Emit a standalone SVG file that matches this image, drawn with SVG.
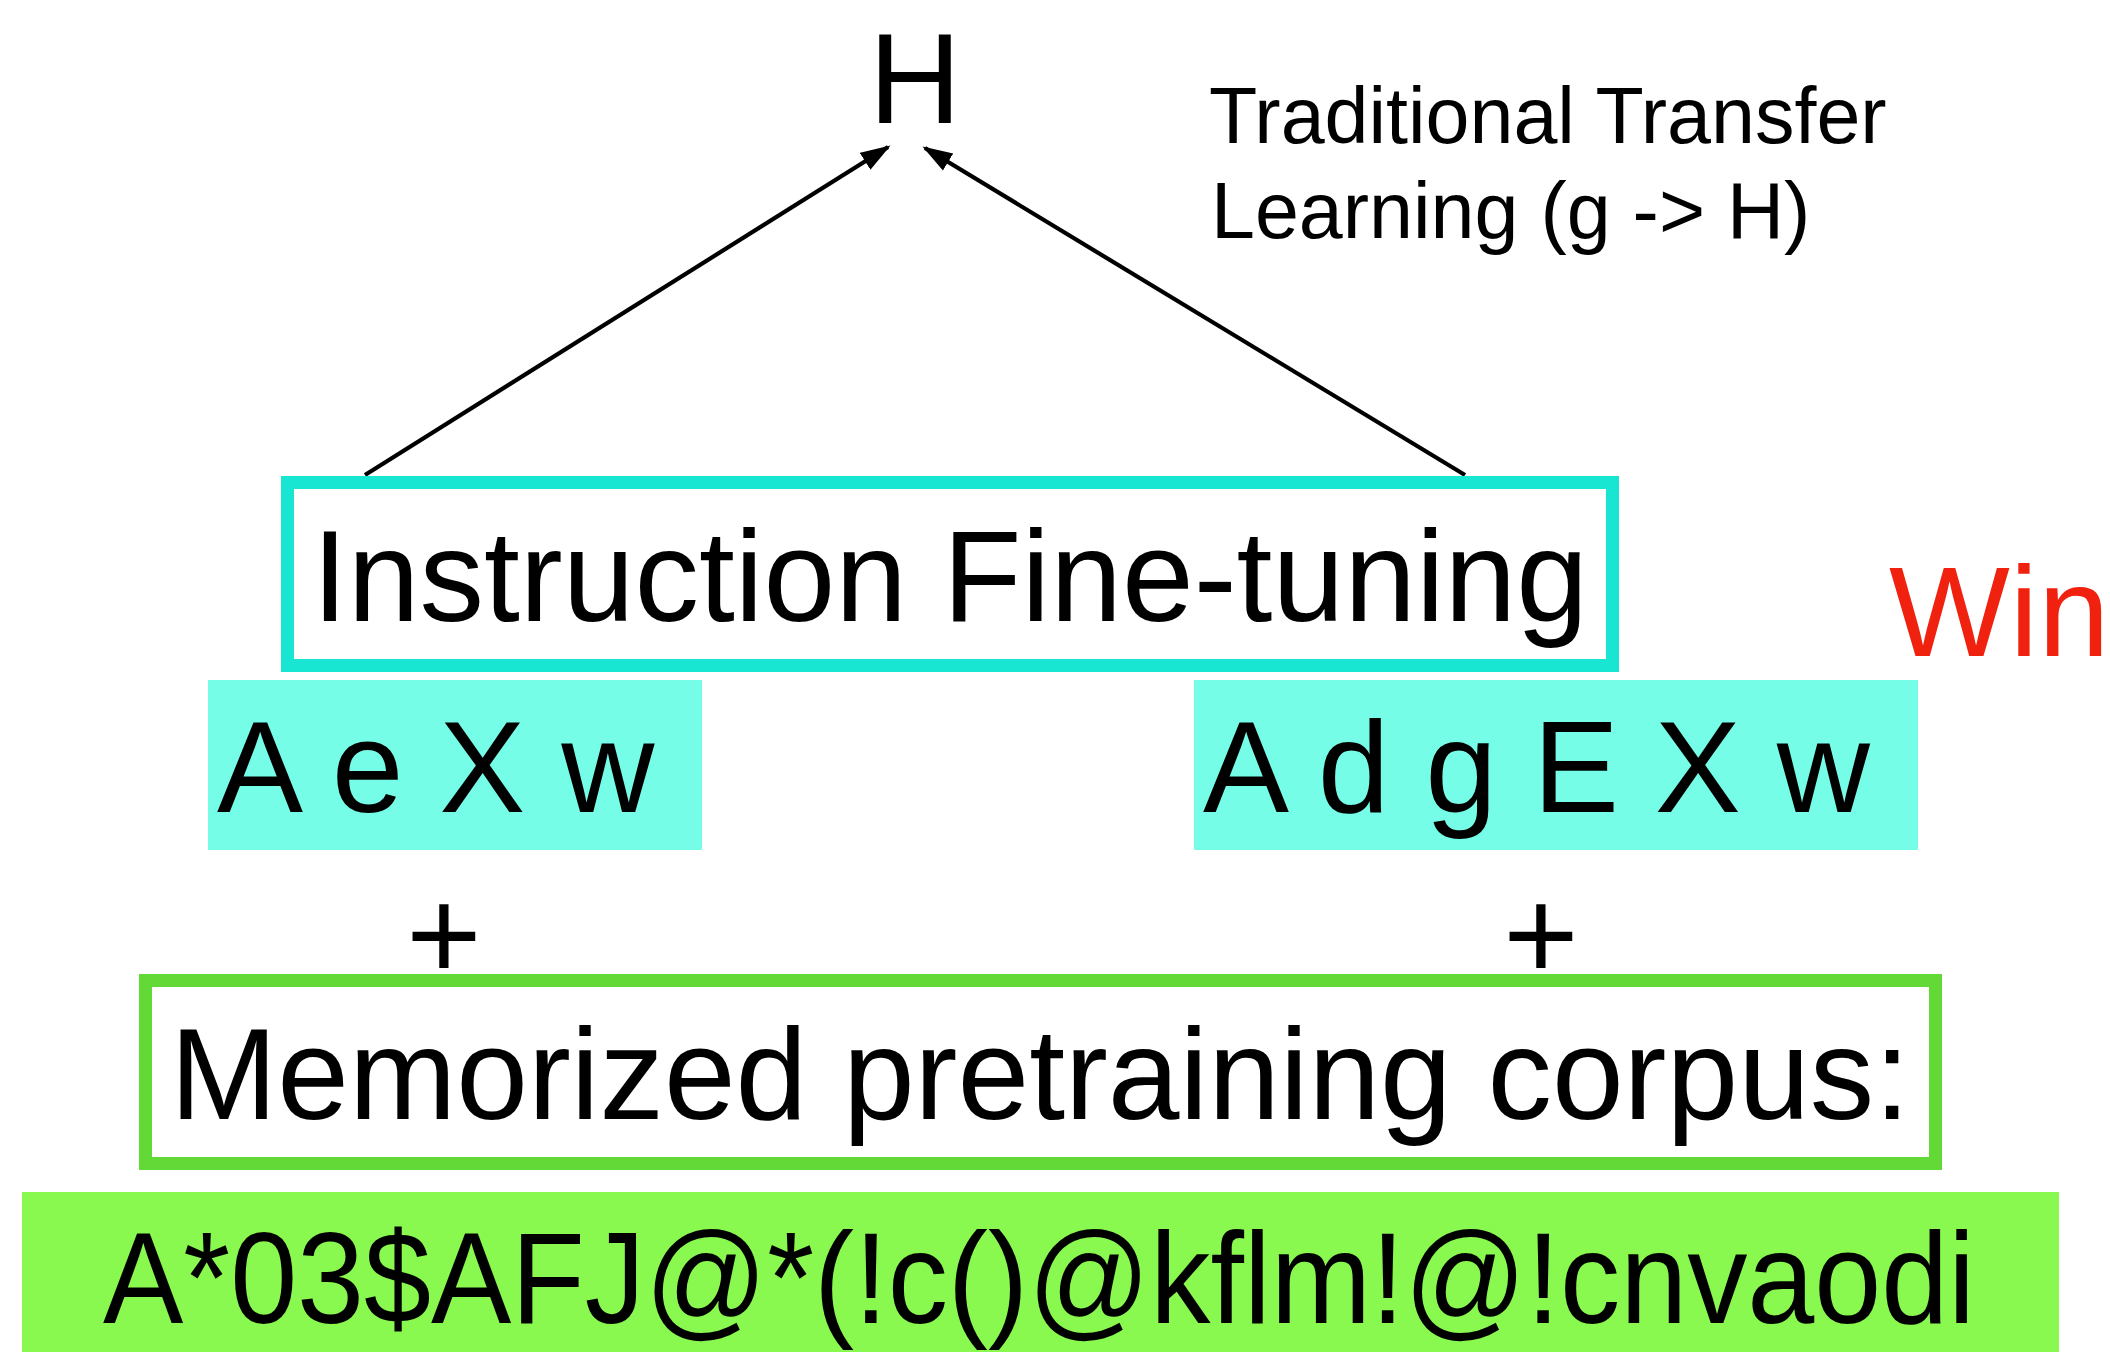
<svg xmlns="http://www.w3.org/2000/svg" width="2110" height="1352" viewBox="0 0 2110 1352">
<defs>
<marker id="ah" markerUnits="userSpaceOnUse" markerWidth="30" markerHeight="22" refX="27" refY="11" orient="auto">
<path d="M0,1 L30,11 L0,21 z" fill="#000"/>
</marker>
<style>
text{font-family:"Liberation Sans",Arial,Helvetica,sans-serif;fill:#000}
.big{font-size:129px}
.note{font-size:79px}
.conn{stroke:#000;stroke-width:4.2;fill:none;marker-end:url(#ah)}
</style>
</defs>
<rect width="2110" height="1352" fill="#fff"/>
<g id="connectors">
<line class="conn" x1="365" y1="475" x2="888" y2="147"/>
<line class="conn" x1="1465" y1="475" x2="925" y2="148"/>
</g>
<g id="node-H">
<text x="915" y="123" text-anchor="middle" font-size="128">H</text>
</g>
<g id="label-traditional">
<text class="note" x="1209" y="143">Traditional Transfer</text>
<text class="note" x="1211" y="238">Learning (g -&gt; H)</text>
</g>
<g id="node-ift">
<rect x="287.5" y="482.5" width="1325" height="183" fill="#fff" stroke="#19E6D2" stroke-width="13"/>
<text class="big" x="950" y="621" text-anchor="middle" textLength="1276" lengthAdjust="spacingAndGlyphs">Instruction Fine-tuning</text>
</g>
<g id="label-win">
<text x="1889" y="656" font-size="128" style="fill:#F0220F">Win</text>
</g>
<g id="node-left-seq">
<rect x="208" y="680" width="494" height="170" fill="#76FDE8"/>
<text class="big" x="217" y="812">A e X w</text>
</g>
<g id="node-right-seq">
<rect x="1194" y="680" width="724" height="170" fill="#76FDE8"/>
<text class="big" x="1203" y="812">A d g E X w</text>
</g>
<g id="plus-left">
<text class="big" x="444" y="979" text-anchor="middle">+</text>
</g>
<g id="plus-right">
<text class="big" x="1541" y="979" text-anchor="middle">+</text>
</g>
<g id="node-corpus">
<rect x="145.5" y="980.5" width="1790" height="183" fill="#fff" stroke="#63D937" stroke-width="13"/>
<text class="big" x="1040" y="1119" text-anchor="middle" textLength="1740" lengthAdjust="spacingAndGlyphs">Memorized pretraining corpus:</text>
</g>
<g id="node-corpus-text">
<rect x="22" y="1192" width="2037" height="160" fill="#89F94F"/>
<text class="big" x="103" y="1323" textLength="1872" lengthAdjust="spacingAndGlyphs">A*03$AFJ@*(!c()@kflm!@!cnvaodi</text>
</g>
</svg>
